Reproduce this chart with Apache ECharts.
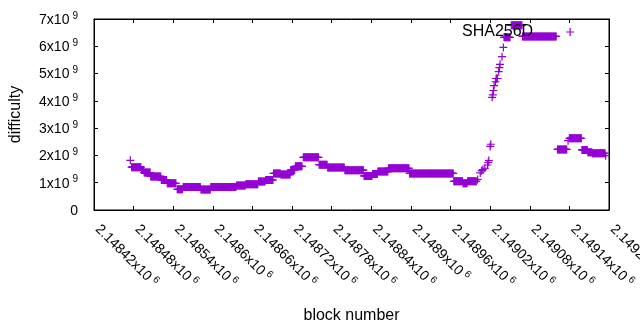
<!DOCTYPE html>
<html>
<head>
<meta charset="utf-8">
<script src="https://cdn.jsdelivr.net/npm/echarts@6/dist/echarts.min.js"></script>
<style>
  html, body { margin: 0; padding: 0; background: #fff; }
  #chart { width: 640px; height: 330px; }
</style>
</head>
<body>
<div id="chart"></div>
<script>
// ---- data ----
const seriesName = 'SHA256D';
const xAxisTitle = 'block number';
const yAxisTitle = 'difficulty';

// runs of consecutive blocks that share the same difficulty (one point per block)
const runStartBlock = [2148477, 2148492, 2148496, 2148506, 2148522, 2148531, 2148546, 2148555, 2148582, 2148597,
  2148636, 2148650, 2148669, 2148680, 2148692, 2148703, 2148718, 2148725, 2148737, 2148761,
  2148774, 2148800, 2148829, 2148842, 2148850, 2148866, 2148898, 2148965, 2148979, 2148986,
  2149029, 2149041, 2149052, 2149069, 2149122, 2149140, 2149159, 2149168, 2149175];
const runEndBlock = [2148491, 2148495, 2148505, 2148521, 2148530, 2148544, 2148554, 2148581, 2148596, 2148635,
  2148649, 2148668, 2148679, 2148691, 2148702, 2148717, 2148724, 2148735, 2148760, 2148773,
  2148799, 2148828, 2148841, 2148849, 2148865, 2148897, 2148964, 2148978, 2148985, 2148999,
  2149031, 2149050, 2149068, 2149120, 2149136, 2149158, 2149167, 2149174, 2149194];
const runDifficulty = [1.57e9, 1.47e9, 1.37e9, 1.23e9, 1.10e9, 0.98e9, 0.76e9, 0.84e9, 0.75e9, 0.84e9,
  0.90e9, 0.94e9, 1.04e9, 1.10e9, 1.34e9, 1.30e9, 1.47e9, 1.60e9, 1.93e9, 1.66e9,
  1.56e9, 1.46e9, 1.25e9, 1.32e9, 1.41e9, 1.53e9, 1.34e9, 1.05e9, 0.98e9, 1.05e9,
  4.82e9, 6.33e9, 6.77e9, 6.36e9, 2.22e9, 2.63e9, 2.20e9, 2.12e9, 2.08e9];

// individual blocks
const singleBlock = [2148475, 2149001, 2149005, 2149007, 2149009, 2149012, 2149016, 2149017, 2149018, 2149020,
  2149021, 2149023, 2149024, 2149025, 2149026, 2149028, 2149033, 2149034, 2149035, 2149038,
  2149040, 2149138, 2149195];
const singleDifficulty = [1.82e9, 1.12e9, 1.36e9, 1.44e9, 1.48e9, 1.53e9, 1.65e9, 1.74e9, 1.81e9, 2.33e9,
  2.41e9, 4.13e9, 4.22e9, 4.38e9, 4.56e9, 4.70e9, 5.07e9, 5.22e9, 5.34e9, 5.62e9,
  5.96e9, 2.54e9, 1.99e9];

const xMin = 2148420, xMax = 2149200, xStep = 60;
const yMin = 0, yMax = 7e9, yStep = 1e9;

// ---- build the point table ----
const points = [];
for (let r = 0; r < runStartBlock.length; r++) {
  for (let b = runStartBlock[r]; b <= runEndBlock[r]; b++) points.push([b, runDifficulty[r]]);
}
for (let i = 0; i < singleBlock.length; i++) points.push([singleBlock[i], singleDifficulty[i]]);
points.sort((a, b) => a[0] - b[0]);

const PLUS = 'path://M3.4,0H4.6V3.4H8V4.6H4.6V8H3.4V4.6H0V3.4H3.4Z';
const FONT = '"Liberation Sans", Arial, sans-serif';
const COLOR = '#9400d3';

const rich = {
  a: { fontSize: 14, lineHeight: 16, verticalAlign: 'bottom', color: '#000', fontFamily: FONT },
  s: { fontSize: 10, lineHeight: 10, verticalAlign: 'top', color: '#000', fontFamily: FONT, padding: [0, 0, 0, 3] }
};
function clean(v) { return String(Number(v.toPrecision(6))); }

const tickStyle = { show: true, inside: true, length: 4, lineStyle: { color: '#000', width: 1 } };

const chart = echarts.init(document.getElementById('chart'), null, { renderer: 'canvas' });
chart.setOption({
  animation: false,
  backgroundColor: '#fff',
  grid: { left: 94, right: 31, top: 19, bottom: 120, show: true, borderColor: '#000', borderWidth: 1,
    backgroundColor: 'transparent', containLabel: false, outerBoundsMode: 'none' },
  legend: {
    data: [{ name: seriesName, icon: PLUS }],
    left: 462, top: 24, padding: 0,
    align: 'right', itemWidth: 8, itemHeight: 8,
    textStyle: { fontSize: 16, color: '#000', fontFamily: FONT, padding: [0, 28, 0, 0] },
    selectedMode: false
  },
  xAxis: [{
    type: 'value', min: xMin, max: xMax, interval: xStep,
    name: xAxisTitle, nameLocation: 'middle', nameGap: 98,
    nameTextStyle: { fontSize: 16, color: '#000', fontFamily: FONT },
    axisLine: { show: true, onZero: false, lineStyle: { color: '#000', width: 1 } },
    axisTick: tickStyle, splitLine: { show: false },
    axisLabel: {
      rotate: -45, margin: 12, padding: [0, 0, 0, 6],
      formatter: v => '{a|' + clean(v / 1e6) + 'x10}{s|6}', rich: rich
    }
  }, {
    type: 'value', min: xMin, max: xMax, interval: xStep, position: 'top',
    axisLine: { show: true, onZero: false, lineStyle: { color: '#000', width: 1 } },
    axisTick: tickStyle, axisLabel: { show: false }, splitLine: { show: false }
  }],
  yAxis: [{
    type: 'value', min: yMin, max: yMax, interval: yStep,
    name: yAxisTitle, nameLocation: 'middle', nameGap: 70, nameRotate: 90,
    nameTextStyle: { fontSize: 16, color: '#000', fontFamily: FONT },
    axisLine: { show: true, onZero: false, lineStyle: { color: '#000', width: 1 } },
    axisTick: tickStyle, splitLine: { show: false },
    axisLabel: {
      margin: 16, align: 'right',
      formatter: v => v === 0 ? '{a|0}' : '{a|' + clean(v / 1e9) + 'x10}{s|9}', rich: rich
    }
  }, {
    type: 'value', min: yMin, max: yMax, interval: yStep, position: 'right',
    axisLine: { show: true, onZero: false, lineStyle: { color: '#000', width: 1 } },
    axisTick: tickStyle, axisLabel: { show: false }, splitLine: { show: false }
  }],
  series: [{
    name: seriesName, type: 'scatter', xAxisIndex: 0, yAxisIndex: 0,
    symbol: PLUS, symbolSize: 8,
    itemStyle: { color: COLOR, opacity: 1 },
    large: false, progressive: 0,
    data: points
  }]
});
</script>
</body>
</html>
